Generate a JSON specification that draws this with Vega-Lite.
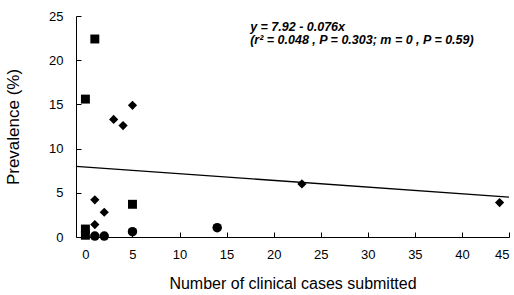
{
  "$schema": "https://vega.github.io/schema/vega-lite/v6.json",
  "autosize": "none",
  "width": 433,
  "height": 221,
  "padding": {"left": 76, "top": 16, "right": 5, "bottom": 58},
  "background": "white",
  "config": {
    "view": {"stroke": null},
    "font": "Liberation Sans",
    "axis": {"grid": false, "domainColor": "black", "tickColor": "black", "labelColor": "black", "titleColor": "black", "labelFont": "Liberation Sans", "titleFont": "Liberation Sans", "titleFontWeight": "normal", "labelFontSize": 13, "titleFontSize": 16, "domainWidth": 1, "tickWidth": 1}
  },
  "datasets": {
    "pts": [
      {"cases": 1, "prev": 22.4, "type": "square"},
      {"cases": 0, "prev": 15.6, "type": "square"},
      {"cases": 5, "prev": 3.7, "type": "square"},
      {"cases": 0, "prev": 0.9, "type": "square"},
      {"cases": 0, "prev": 0.2, "type": "square"},
      {"cases": 3, "prev": 13.3, "type": "diamond"},
      {"cases": 4, "prev": 12.6, "type": "diamond"},
      {"cases": 5, "prev": 14.9, "type": "diamond"},
      {"cases": 1, "prev": 4.2, "type": "diamond"},
      {"cases": 2, "prev": 2.8, "type": "diamond"},
      {"cases": 1, "prev": 1.4, "type": "diamond"},
      {"cases": 23, "prev": 6.0, "type": "diamond"},
      {"cases": 44, "prev": 3.9, "type": "diamond"},
      {"cases": 1, "prev": 0.1, "type": "circle"},
      {"cases": 2, "prev": 0.1, "type": "circle"},
      {"cases": 5, "prev": 0.6, "type": "circle"},
      {"cases": 14, "prev": 1.05, "type": "circle"}
    ],
    "fit": [
      {"cases": -1, "prev": 8.0},
      {"cases": 45, "prev": 4.5}
    ],
    "notes": [
      {"cases": 17.5, "prev": 23.8, "label": "y = 7.92 - 0.076x"},
      {"cases": 17.5, "prev": 22.3, "label": "(r² = 0.048 ,  P = 0.303; m = 0 ,  P = 0.59)"}
    ]
  },
  "layer": [
    {
      "data": {"name": "fit"},
      "mark": {"type": "line", "color": "black", "strokeWidth": 1.3},
      "encoding": {
        "x": {"field": "cases", "type": "quantitative", "scale": {"domain": [-1, 45], "nice": false, "zero": false},
          "axis": {"title": "Number of clinical cases submitted", "values": [0,5,10,15,20,25,30,35,40,45], "tickSize": -5, "labelPadding": 16, "titlePadding": 14}},
        "y": {"field": "prev", "type": "quantitative", "scale": {"domain": [0, 25], "nice": false},
          "axis": {"title": "Prevalence (%)", "titleFontSize": 17, "values": [0,5,10,15,20,25], "tickSize": -5, "labelPadding": 18, "titlePadding": 26}}
      }
    },
    {
      "data": {"name": "pts"},
      "mark": {"type": "point", "filled": true, "color": "black", "opacity": 1},
      "encoding": {
        "x": {"field": "cases", "type": "quantitative"},
        "y": {"field": "prev", "type": "quantitative"},
        "shape": {"field": "type", "type": "nominal", "scale": {"domain": ["square", "diamond", "circle"], "range": ["square", "diamond", "circle"]}, "legend": null},
        "size": {"field": "type", "type": "nominal", "scale": {"domain": ["square", "diamond", "circle"], "range": [80, 90, 64]}, "legend": null}
      }
    },
    {
      "data": {"name": "notes"},
      "mark": {"type": "text", "align": "left", "baseline": "middle", "fontSize": 12.5, "fontWeight": "bold", "fontStyle": "italic", "color": "black", "font": "Liberation Sans"},
      "encoding": {
        "x": {"field": "cases", "type": "quantitative"},
        "y": {"field": "prev", "type": "quantitative"},
        "text": {"field": "label"}
      }
    }
  ]
}
